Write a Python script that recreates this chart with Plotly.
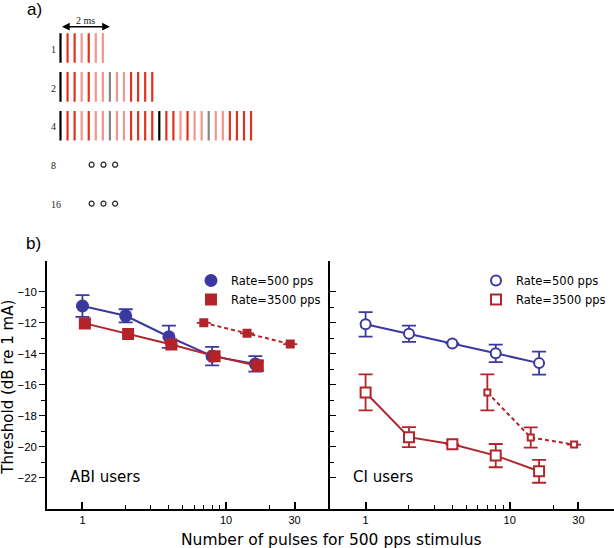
import plotly.graph_objects as go

# ---------------- data ----------------
# panel a: pulse trains (rows = number of 500 pps pulses)
row_labels = ["1", "2", "4", "8", "16"]
pulses_per_row = [7, 14, 28]          # 3500 pps pulses drawn in rows 1, 2, 4
pulse_kind = ["k", "r", "r", "p", "r", "p", "p", "g", "p", "p", "r", "r", "r", "r"]  # repeating pattern
rate_hi_pps = 3500
ellipsis_ms = [1.26, 1.74, 2.21]      # "o o o" in rows 8 and 16
scale_bar_ms = 2

# panel b  (None = error bar hidden inside the marker)
n_pulses = [1, 2, 4, 8, 16]
equal_pulses = [7, 14, 28]

abi_500 = [-10.92, -11.55, -12.90, -14.15, -14.65]
abi_500_err = [0.70, 0.42, 0.72, 0.60, 0.50]
abi_3500 = [-12.04, -12.73, -13.40, -14.15, -14.77]
abi_3500_err = [None, None, None, None, 0.35]
abi_3500_eq = [-12.00, -12.68, -13.37]
abi_3500_eq_err = [None, None, None]

ci_500 = [-12.10, -12.71, -13.33, -13.97, -14.60]
ci_500_err = [0.79, 0.52, None, 0.56, 0.74]
ci_3500 = [-16.49, -19.37, -19.83, -20.56, -21.57]
ci_3500_err = [1.16, 0.64, None, 0.75, 0.74]
ci_3500_eq = [-16.49, -19.39, -19.85]
ci_3500_eq_err = [1.16, 0.65, None]

y_major = [-22, -20, -18, -16, -14, -12, -10]
y_minor = [-21, -19, -17, -15, -13, -11]
x_major = [1, 10, 30]
x_minor = [2, 3, 4, 5, 6, 7, 8, 9, 20]

# ---------------- styles ----------------
BLUE = "#3b399f"
RED = "#b2242a"
KIND_COLOR = {"k": "#000000", "r": "#e2301f", "p": "#f0968b", "g": "#858585"}
SANS = "DejaVu Sans"
SERIF = "Liberation Serif"
W, H = 614, 548
ML, MR, MT, MB = 47, 0, 0, 39
PW, PH = W - ML - MR, H - MT - MB
split = (330 - ML) / PW
b_top = (PH - 260.7) / PH

fig = go.Figure()

# ---------------- panel a ----------------
row_half = 0.38
for kind, col in KIND_COLOR.items():
    xs, ys = [], []
    for r, n in enumerate(pulses_per_row):
        for k in range(n):
            if pulse_kind[k % len(pulse_kind)] == kind:
                t = k * 1000.0 / rate_hi_pps
                xs += [t, t, None]
                ys += [r - row_half, r + row_half, None]
    fig.add_trace(go.Scatter(x=xs, y=ys, mode="lines", xaxis="x3", yaxis="y3",
                             line=dict(color=col, width=2.2), showlegend=False, hoverinfo="skip"))

ex, ey = [], []
for r in [3, 4]:
    for t in ellipsis_ms:
        ex.append(t)
        ey.append(r)
fig.add_trace(go.Scatter(x=ex, y=ey, mode="markers", xaxis="x3", yaxis="y3",
                         marker=dict(symbol="circle-open", size=5, color="#222222", line=dict(width=1.2)),
                         showlegend=False, hoverinfo="skip"))

px_per_ms = 24.7
t0_px = 60.5
x3_lo = -(t0_px - ML) / px_per_ms
x3_hi = x3_lo + PW / px_per_ms
row_px0, row_step = 48.0, 38.9
a_dom_lo = 0.5
a_height = PH * (1 - a_dom_lo)
y3_top = -row_px0 / row_step
y3_bot = (a_height - row_px0) / row_step

def ypx_a(px):
    return (px - row_px0) / row_step

def xpx_a(px):
    return (px - t0_px) / px_per_ms

annotations = []
for i, lab in enumerate(row_labels):
    annotations.append(dict(x=xpx_a(48.5), y=i + 0.03, xref="x3", yref="y3", text=lab,
                            showarrow=False, xanchor="left", yanchor="middle",
                            font=dict(family=SERIF, size=10, color="#222222")))
annotations.append(dict(x=scale_bar_ms, y=ypx_a(26.7), ax=0, ay=ypx_a(26.7),
                        xref="x3", yref="y3", axref="x3", ayref="y3", text="",
                        showarrow=True, arrowside="end+start", arrowhead=2, arrowsize=1.1,
                        arrowwidth=1.4, arrowcolor="#000000"))
annotations.append(dict(x=scale_bar_ms / 2, y=ypx_a(20), xref="x3", yref="y3", text="2 ms",
                        showarrow=False, font=dict(family=SERIF, size=10, color="#222222")))
annotations.append(dict(x=(25 - ML) / PW, y=(PH - 10) / PH, xref="paper", yref="paper", text="a)",
                        showarrow=False, xanchor="left", yanchor="middle",
                        font=dict(family="Liberation Sans", size=17, color="#000000")))
annotations.append(dict(x=(24 - ML) / PW, y=(PH - 243) / PH, xref="paper", yref="paper", text="b)",
                        showarrow=False, xanchor="left", yanchor="middle",
                        font=dict(family="Liberation Sans", size=17, color="#000000")))

# ---------------- panel b ----------------
jit = 1.04

def err(vals, col, thick=1.8, w=7):
    return dict(type="data", array=vals, visible=True, color=col, thickness=thick, width=w)

# ABI
fig.add_trace(go.Scatter(x=n_pulses, y=abi_500, xaxis="x", yaxis="y", mode="lines+markers",
                         line=dict(color=BLUE, width=2), error_y=err(abi_500_err, BLUE),
                         marker=dict(symbol="circle", size=13, color=BLUE, line=dict(width=0)),
                         showlegend=False))
fig.add_trace(go.Scatter(x=[v * jit for v in n_pulses], y=abi_3500, xaxis="x", yaxis="y", mode="lines+markers",
                         line=dict(color=RED, width=2), error_y=err(abi_3500_err, RED, w=6),
                         marker=dict(symbol="square", size=12, color=RED, line=dict(width=0)),
                         showlegend=False))
fig.add_trace(go.Scatter(x=equal_pulses, y=abi_3500_eq, xaxis="x", yaxis="y", mode="lines+markers",
                         line=dict(color=RED, width=2, dash="4px,3px"), error_y=err(abi_3500_eq_err, RED),
                         marker=dict(symbol="square", size=9, color=RED, line=dict(width=0)),
                         showlegend=False))
# CI
fig.add_trace(go.Scatter(x=n_pulses, y=ci_500, xaxis="x2", yaxis="y2", mode="lines+markers",
                         line=dict(color=BLUE, width=2), error_y=err(ci_500_err, BLUE),
                         marker=dict(symbol="circle", size=10, color="white", line=dict(width=2, color=BLUE)),
                         showlegend=False))
fig.add_trace(go.Scatter(x=n_pulses, y=ci_3500, xaxis="x2", yaxis="y2", mode="lines+markers",
                         line=dict(color=RED, width=2), error_y=err(ci_3500_err, RED),
                         marker=dict(symbol="square", size=10, color="white", line=dict(width=2, color=RED)),
                         showlegend=False))
fig.add_trace(go.Scatter(x=equal_pulses, y=ci_3500_eq, xaxis="x2", yaxis="y2", mode="lines+markers",
                         line=dict(color=RED, width=2, dash="4px,3px"), error_y=err(ci_3500_eq_err, RED),
                         marker=dict(symbol="square", size=6, color="white", line=dict(width=2, color=RED)),
                         showlegend=False))

# legend entries
fig.add_trace(go.Scatter(x=[None], y=[None], xaxis="x", yaxis="y", mode="markers", name="Rate=500 pps",
                         marker=dict(symbol="circle", size=13, color=BLUE), legend="legend"))
fig.add_trace(go.Scatter(x=[None], y=[None], xaxis="x", yaxis="y", mode="markers", name="Rate=3500 pps",
                         marker=dict(symbol="square", size=12, color=RED), legend="legend"))
fig.add_trace(go.Scatter(x=[None], y=[None], xaxis="x2", yaxis="y2", mode="markers", name="Rate=500 pps",
                         marker=dict(symbol="circle", size=10, color="white", line=dict(width=2, color=BLUE)),
                         legend="legend2"))
fig.add_trace(go.Scatter(x=[None], y=[None], xaxis="x2", yaxis="y2", mode="markers", name="Rate=3500 pps",
                         marker=dict(symbol="square", size=10, color="white", line=dict(width=2, color=RED)),
                         legend="legend2"))

annotations.append(dict(x=(68 - ML) / PW, y=(PH - 477) / PH, xref="paper", yref="paper", text="ABI users",
                        showarrow=False, xanchor="left", yanchor="middle",
                        font=dict(family=SANS, size=15, color="#000000")))
annotations.append(dict(x=(351 - ML) / PW, y=(PH - 477) / PH, xref="paper", yref="paper", text="CI users",
                        showarrow=False, xanchor="left", yanchor="middle",
                        font=dict(family=SANS, size=15, color="#000000")))
annotations.append(dict(x=(331 - ML) / PW, y=(PH - 540) / PH, xref="paper", yref="paper",
                        text="Number of pulses for 500 pps stimulus",
                        showarrow=False, xanchor="center", yanchor="middle",
                        font=dict(family=SANS, size=15.5, color="#000000")))
annotations.append(dict(x=(8 - ML) / PW, y=(PH - 387.7) / PH, xref="paper", yref="paper",
                        text="Threshold (dB re 1 mA)", textangle=-90,
                        showarrow=False, xanchor="center", yanchor="middle",
                        font=dict(family=SANS, size=15, color="#000000")))

xr = [-0.247, 1.724]
common_x = dict(type="log", range=xr, showline=True, linecolor="black", linewidth=1.5,
                ticks="inside", ticklen=7, tickwidth=1.6, tickcolor="black",
                tickmode="array", tickvals=x_major, ticktext=[str(v) for v in x_major],
                minor=dict(tickmode="array", tickvals=x_minor, ticks="inside", ticklen=4,
                           tickwidth=1, tickcolor="black"),
                showgrid=False, zeroline=False,
                tickfont=dict(family="Liberation Sans", size=11, color="#000000"))
yr = [-24, -8]
common_y = dict(range=yr, showline=True, linecolor="black", linewidth=1.5,
                tickmode="array", tickvals=y_major, ticklen=6, tickwidth=1.4, tickcolor="black",
                showgrid=False, zeroline=False,
                tickfont=dict(family="Liberation Sans", size=11.5, color="#000000"))

fig.update_layout(
    width=W, height=H, margin=dict(l=ML, r=MR, t=MT, b=MB),
    paper_bgcolor="white", plot_bgcolor="rgba(0,0,0,0)",
    xaxis=dict(domain=[0, split], anchor="y", **common_x),
    xaxis2=dict(domain=[split, 1], anchor="y2", **common_x),
    yaxis=dict(domain=[0, b_top], anchor="x", ticks="outside",
               minor=dict(tickmode="array", tickvals=y_minor, ticks="outside", ticklen=4,
                          tickwidth=1, tickcolor="black"), **common_y),
    yaxis2=dict(domain=[0, b_top], anchor="x2", ticks="inside", showticklabels=False,
                minor=dict(tickmode="array", tickvals=y_minor, ticks="inside", ticklen=4,
                           tickwidth=1, tickcolor="black"), **common_y),
    xaxis3=dict(domain=[0, 1], anchor="y3", range=[x3_lo, x3_hi], visible=False),
    yaxis3=dict(domain=[a_dom_lo, 1], anchor="x3", range=[y3_bot, y3_top], visible=False),
    legend=dict(x=(191 - ML) / PW, y=(PH - 266) / PH, xanchor="left", yanchor="top",
                bgcolor="rgba(0,0,0,0)", font=dict(family=SANS, size=11.5, color="#000000"),
                itemsizing="trace", itemwidth=30, tracegroupgap=0),
    legend2=dict(x=(476 - ML) / PW, y=(PH - 266) / PH, xanchor="left", yanchor="top",
                 bgcolor="rgba(0,0,0,0)", font=dict(family=SANS, size=11.5, color="#000000"),
                 itemsizing="trace", itemwidth=30, tracegroupgap=0),
    annotations=annotations,
    showlegend=True,
)

fig.write_html("out.html", config={"displayModeBar": False},
               post_script="document.body.style.margin='0';document.body.style.overflow='hidden';")
